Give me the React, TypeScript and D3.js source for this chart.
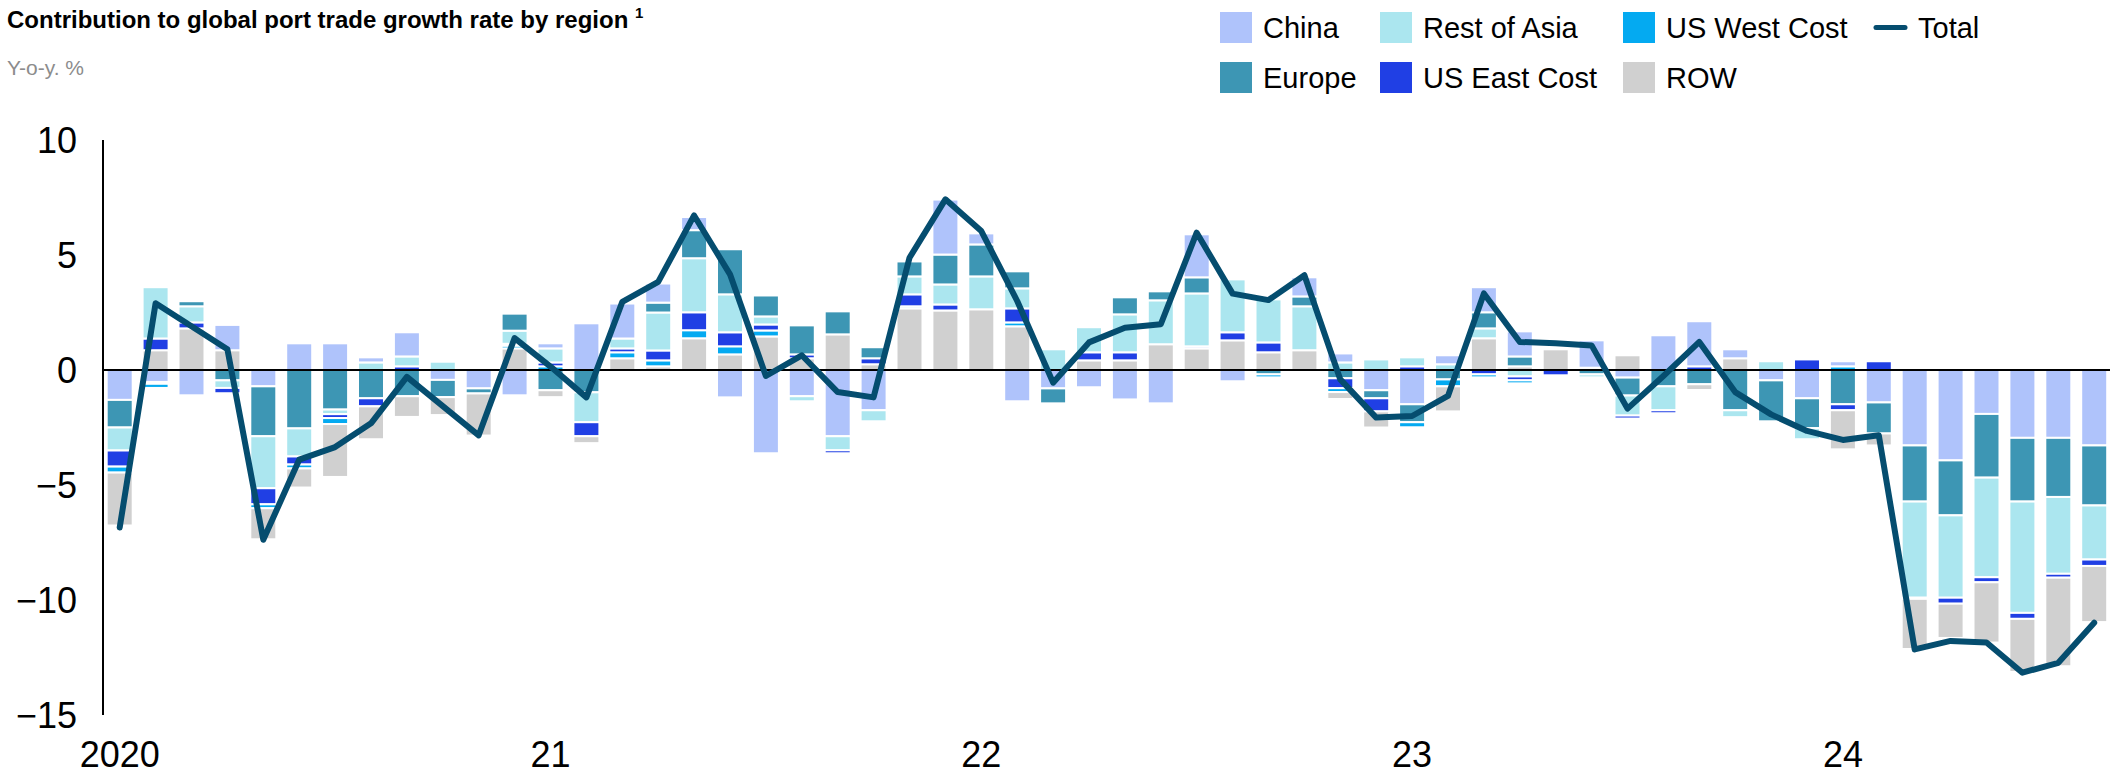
import React, { useEffect, useRef } from "react";
import * as d3 from "d3";

// monthly categories, Jan 2020 - Aug 2024
const months = [
  "2020-01", "2020-02", "2020-03", "2020-04", "2020-05", "2020-06", "2020-07", "2020-08", "2020-09", "2020-10", "2020-11", "2020-12",
  "2021-01", "2021-02", "2021-03", "2021-04", "2021-05", "2021-06", "2021-07", "2021-08", "2021-09", "2021-10", "2021-11", "2021-12",
  "2022-01", "2022-02", "2022-03", "2022-04", "2022-05", "2022-06", "2022-07", "2022-08", "2022-09", "2022-10", "2022-11", "2022-12",
  "2023-01", "2023-02", "2023-03", "2023-04", "2023-05", "2023-06", "2023-07", "2023-08", "2023-09", "2023-10", "2023-11", "2023-12",
  "2024-01", "2024-02", "2024-03", "2024-04", "2024-05", "2024-06", "2024-07", "2024-08",
];

const china = [
  -1.3, -0.52, -1.1, 1.1, -0.71, 1.16, 1.16, 0.22, 1.05, -0.43, -0.8, -1.1,
  0.22, 2.03, 1.52, 0.83, 0.57, -1.19, -3.62, -1.14, -2.88, -1.75, 0, 2.39,
  0.48, -1.36, -0.8, -0.75, -1.28, -1.45, 1.87, -0.49, 0, 0.83, 0.39, -0.88,
  -1.49, 0.39, 1.09, 1.09, 0, 1.19, -0.33, 1.51, 1.96, 0.39, -0.45, -1.23,
  0.22, -1.41, -3.28, -3.93, -1.91, -2.95, -2.95, -3.28,
];
const restOfAsia = [
  -1.0, 2.23, 0.7, -0.33, -2.26, -1.22, -0.2, 0.33, 0.43, 0.36, 0, 0.57,
  0.61, -1.3, 0.43, 1.65, 2.35, 1.65, 0.35, -0.22, -0.61, -0.48, 0.78, 0.87,
  1.43, 0.87, 0.9, 1.09, 1.65, 1.91, 2.3, 2.3, 1.87, 1.91, 0.33, 0.46,
  0.39, 0.25, 0.43, -0.28, 0, -0.13, -0.87, -1.04, 0, -0.3, 0.38, -0.48,
  0, 0, -4.18, -3.58, -4.33, -4.84, -3.34, -2.35,
];
const usWest = [
  -0.26, -0.18, 0, 0, -0.17, -0.17, -0.26, 0, 0, 0, 0, 0.12,
  0.16, 0, 0.26, 0.26, 0.35, 0.35, 0.26, 0, 0, 0, 0.09, 0,
  0, 0.17, 0, 0, 0, 0, 0, 0, -0.13, 0, -0.17, 0,
  -0.22, -0.3, -0.13, -0.13, 0, 0, 0, 0, 0, 0, 0, 0,
  0.16, 0, 0, 0, 0, 0, 0, 0,
];
const europe = [
  -1.2, -0.08, 0.22, -0.45, -2.17, -2.54, -1.72, -1.23, -1.14, -0.75, -0.22, 0.74,
  -0.88, -0.97, 0, 0.43, 1.22, 1.96, 0.91, 1.26, 1.0, 0.48, 0.65, 1.3,
  1.39, 0.74, -0.65, 0, 0.74, 0.39, 0.7, 0, -0.19, 0.43, -0.36, -0.35,
  -0.78, -0.41, 0.7, 0.43, 0, -0.19, -0.78, -0.71, -0.62, -1.75, -1.78, -1.3,
  -1.49, -1.35, -2.44, -2.39, -2.77, -2.77, -2.57, -2.61,
];
const usEast = [
  -0.7, 0.51, 0.26, -0.23, -0.7, -0.35, -0.17, -0.35, 0.16, 0, 0, 0.08,
  0.17, -0.61, 0.17, 0.43, 0.78, 0.61, 0.26, 0.17, -0.13, 0.26, 0.52, 0.26,
  0, 0.61, 0, 0.35, 0.35, 0, 0.09, 0.35, 0.43, 0, -0.43, -0.57,
  0.16, 0, -0.19, -0.17, -0.23, 0, -0.13, -0.13, 0.16, 0, 0, 0.46,
  -0.26, 0.38, -0.05, -0.26, -0.22, -0.26, -0.17, -0.28,
];
const rowRegion = [
  -2.3, 0.86, 1.81, 0.86, -1.35, -0.83, -2.3, -1.43, -0.9, -0.78, -1.83, 0.94,
  -0.3, -0.3, 0.51, 0.16, 1.38, 0.68, 1.46, 0.51, 1.55, 0.25, 2.68, 2.59,
  2.64, 1.9, 0, 0.42, 0.42, 1.12, 0.94, 1.29, 0.77, 0.86, -0.3, -0.7,
  0, -1.09, 1.38, 0.16, 0.9, 0.1, 0.64, 0, -0.25, 0.51, 0, 0,
  -1.7, -0.52, -2.18, -1.49, -2.62, -2.31, -3.85, -2.44,
];
const total = [
  -6.85, 2.9, 1.9, 0.9, -7.38, -3.9, -3.35, -2.32, -0.3, -1.57, -2.84, 1.39,
  0.15, -1.19, 2.96, 3.83, 6.72, 4.16, -0.26, 0.64, -0.96, -1.19, 4.88, 7.42,
  6.04, 3.0, -0.55, 1.2, 1.84, 1.99, 5.97, 3.32, 3.04, 4.12, -0.41, -2.07,
  -2.0, -1.13, 3.33, 1.22, 1.16, 1.07, -1.68, -0.26, 1.22, -0.96, -1.93, -2.65,
  -3.04, -2.84, -12.15, -11.78, -11.85, -13.16, -12.73, -10.99,
];

const yTicks = [10, 5, 0, -5, -10, -15];
const yearTicks = ["2020-01", "2021-01", "2022-01", "2023-01", "2024-01"];
const yearLabels = ["2020", "21", "22", "23", "24"];

const series = [
  { key: "china", label: "China", values: china, color: "#afc3fb" },
  { key: "restOfAsia", label: "Rest of Asia", values: restOfAsia, color: "#abe6ef" },
  { key: "usWest", label: "US West Cost", values: usWest, color: "#04aaf1" },
  { key: "europe", label: "Europe", values: europe, color: "#3d96b4" },
  { key: "usEast", label: "US East Cost", values: usEast, color: "#203fe4" },
  { key: "row", label: "ROW", values: rowRegion, color: "#d0d0d0" },
];

// stacking order away from zero (negatives go the other way round)
const posOrder = ["row", "usWest", "usEast", "restOfAsia", "europe", "china"];
const negOrder = ["china", "europe", "restOfAsia", "usEast", "usWest", "row"];

const FONT = "'Liberation Sans', Arial, Helvetica, sans-serif";
const TOTAL_COLOR = "#054d6f";

export default function App() {
  const svgRef = useRef<SVGSVGElement>(null);

  useEffect(() => {
    document.body.style.margin = "0";
    const width = 2110;
    const height = 774;

    const svg = d3.select(svgRef.current);
    svg.selectAll("*").remove();
    svg.attr("width", width).attr("height", height).style("font-family", FONT);

    const x = d3
      .scaleBand()
      .domain(months)
      .range([101.75, 2112.15])
      .paddingInner(0.276)
      .paddingOuter(0.138);
    const y = d3.scaleLinear().domain([-15, 10]).range([715, 140]);

    const byKey = new Map(series.map((s) => [s.key, s]));

    // build stacked segments
    const segments: { month: string; y0: number; y1: number; color: string }[] = [];
    months.forEach((m, i) => {
      let pos = 0;
      posOrder.forEach((k) => {
        const s = byKey.get(k)!;
        const v = s.values[i];
        if (v > 0) {
          segments.push({ month: m, y0: pos, y1: pos + v, color: s.color });
          pos += v;
        }
      });
      let neg = 0;
      negOrder.forEach((k) => {
        const s = byKey.get(k)!;
        const v = s.values[i];
        if (v < 0) {
          segments.push({ month: m, y0: neg + v, y1: neg, color: s.color });
          neg += v;
        }
      });
    });

    svg
      .append("g")
      .selectAll("rect")
      .data(segments)
      .join("rect")
      .attr("x", (d) => x(d.month)!)
      .attr("width", x.bandwidth())
      .attr("y", (d) => y(d.y1))
      .attr("height", (d) => y(d.y0) - y(d.y1))
      .attr("fill", (d) => d.color)
      .attr("stroke", "#fff")
      .attr("stroke-width", 2);

    // axes lines
    svg
      .append("line")
      .attr("x1", 103)
      .attr("x2", 103)
      .attr("y1", y(10))
      .attr("y2", y(-15))
      .attr("stroke", "#000")
      .attr("stroke-width", 2);

    svg
      .append("line")
      .attr("x1", 103)
      .attr("x2", width)
      .attr("y1", y(0))
      .attr("y2", y(0))
      .attr("stroke", "#000")
      .attr("stroke-width", 2);

    // total line
    const line = d3
      .line<number>()
      .x((d, i) => x(months[i])! + x.bandwidth() / 2)
      .y((d) => y(d));

    svg
      .append("path")
      .datum(total)
      .attr("d", line)
      .attr("fill", "none")
      .attr("stroke", TOTAL_COLOR)
      .attr("stroke-width", 6)
      .attr("stroke-linejoin", "round")
      .attr("stroke-linecap", "round");

    // y tick labels
    svg
      .append("g")
      .selectAll("text")
      .data(yTicks)
      .join("text")
      .attr("x", 77)
      .attr("y", (d) => y(d))
      .attr("dy", "0.36em")
      .attr("text-anchor", "end")
      .attr("font-size", 36)
      .attr("fill", "#000")
      .text((d) => (d < 0 ? "\u2212" + Math.abs(d) : String(d)));

    // x year labels
    svg
      .append("g")
      .selectAll("text")
      .data(yearTicks)
      .join("text")
      .attr("x", (d) => x(d)! + x.bandwidth() / 2)
      .attr("y", 767)
      .attr("text-anchor", "middle")
      .attr("font-size", 36)
      .attr("fill", "#000")
      .text((d, i) => yearLabels[i]);

    // title + subtitle
    const title = svg
      .append("text")
      .attr("x", 7)
      .attr("y", 28)
      .attr("font-size", 24)
      .attr("font-weight", "bold")
      .attr("fill", "#000")
      .text("Contribution to global port trade growth rate by region ");
    title.append("tspan").attr("font-size", 15).attr("dy", -10).text("1");

    svg
      .append("text")
      .attr("x", 7)
      .attr("y", 75)
      .attr("font-size", 21)
      .attr("fill", "#8c8c8c")
      .text("Y-o-y. %");

    // legend
    const legendCols = [1220, 1380, 1623];
    const legendRows = [12, 62];
    const legendItems = [
      { key: "china", col: 0, row: 0 },
      { key: "restOfAsia", col: 1, row: 0 },
      { key: "usWest", col: 2, row: 0 },
      { key: "europe", col: 0, row: 1 },
      { key: "usEast", col: 1, row: 1 },
      { key: "row", col: 2, row: 1 },
    ];
    const legend = svg.append("g");
    legendItems.forEach((it) => {
      const s = byKey.get(it.key)!;
      const g = legend
        .append("g")
        .attr("transform", `translate(${legendCols[it.col]},${legendRows[it.row]})`);
      g.append("rect").attr("width", 32).attr("height", 31).attr("fill", s.color);
      g.append("text")
        .attr("x", 43)
        .attr("y", 15.5)
        .attr("dy", "0.36em")
        .attr("font-size", 29)
        .attr("fill", "#000")
        .text(s.label);
    });
    const tl = legend.append("g").attr("transform", `translate(1874,${legendRows[0]})`);
    tl.append("line")
      .attr("x1", 2)
      .attr("x2", 31)
      .attr("y1", 15.5)
      .attr("y2", 15.5)
      .attr("stroke", TOTAL_COLOR)
      .attr("stroke-width", 5)
      .attr("stroke-linecap", "round");
    tl.append("text")
      .attr("x", 44)
      .attr("y", 15.5)
      .attr("dy", "0.36em")
      .attr("font-size", 29)
      .attr("fill", "#000")
      .text("Total");
  }, []);

  return <svg ref={svgRef} style={{ display: "block" }}></svg>;
}
